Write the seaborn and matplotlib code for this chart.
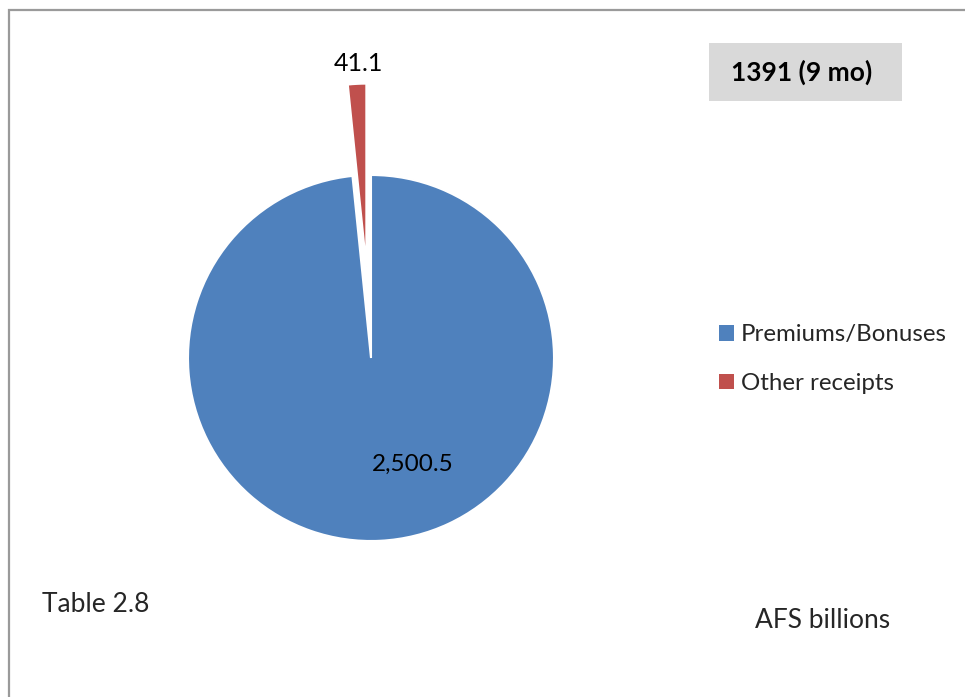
import matplotlib
matplotlib.use("Agg")
import matplotlib.pyplot as plt
from matplotlib.patches import Rectangle, Patch
import seaborn as sns

# Receipts, AFS billions
categories = ["Premiums/Bonuses", "Other receipts"]
values = [2500.5, 41.1]
value_labels = ["2,500.5", "41.1"]
explode = [0.0, 0.5]
colors = ["#4F81BD", "#C0504D"]

sns.set_theme(style="white")
plt.rcParams["font.family"] = ["Lato", "DejaVu Sans"]

W, H = 965, 697
fig = plt.figure(figsize=(W / 100, H / 100), dpi=100)

# pie centre at (371, 358) px, radius 183 px
cx, cy, r = 371, 358, 183
ax_l, ax_r, ax_t, ax_b = 100, 642, 30, 686
ax = fig.add_axes([ax_l / W, 1 - ax_b / H, (ax_r - ax_l) / W, (ax_b - ax_t) / H])

wedges, _ = ax.pie(
    values,
    colors=colors,
    explode=explode,
    startangle=90,
    counterclock=False,
    wedgeprops=dict(edgecolor="white", linewidth=1.5),
)
ax.set_xlim((ax_l - cx) / r, (ax_r - cx) / r)
ax.set_ylim((cy - ax_b) / r, (cy - ax_t) / r)
ax.set_aspect("auto")
ax.axis("off")

# value labels
label_pos = [(0.23, -0.58), (-0.07, 1.61)]
label_sizes = [17.5, 18]
for (x, y), txt, fs in zip(label_pos, value_labels, label_sizes):
    ax.text(x, y, txt, ha="center", va="center", fontsize=fs, color="black")

# title box
fig.text(802 / W, 1 - 72 / H, "1391 (9 mo)", ha="center", va="center",
         fontsize=19, fontweight="bold", color="black")
fig.add_artist(Rectangle((709 / W, 1 - 101 / H), (902 - 709) / W, (101 - 43) / H,
                         transform=fig.transFigure, facecolor="#D9D9D9",
                         edgecolor="none", zorder=0))

# legend
handles = [Patch(facecolor=c, edgecolor="none") for c in colors]
fig.legend(handles, categories, loc="center left",
           bbox_to_anchor=(707 / W, 1 - 359 / H), frameon=False,
           fontsize=17.3, handlelength=0.62, handleheight=0.62,
           handletextpad=0.3, labelspacing=1.15, borderpad=0)

fig.text(42 / W, 1 - 604 / H, "Table 2.8", ha="left", va="center", fontsize=19)
fig.text(755 / W, 1 - 621 / H, "AFS billions", ha="left", va="center", fontsize=19)

# chart area border (top and left edges visible)
fig.add_artist(Rectangle((8.5 / W, -0.1), 1.2, 1.1 - 9.5 / H,
                         transform=fig.transFigure, facecolor="none",
                         edgecolor="#9A9A9A", linewidth=1.6, clip_on=False))

fig.savefig("out.png", dpi=100, facecolor="white")
